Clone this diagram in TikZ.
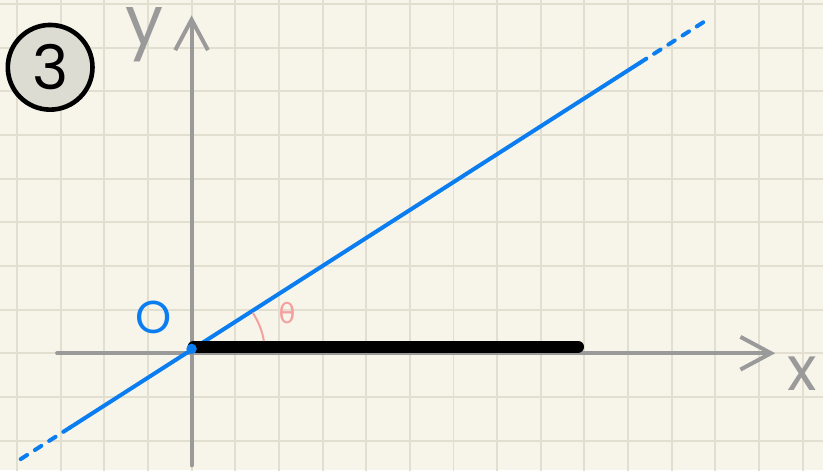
\documentclass[tikz,border=0pt]{standalone}
\usepackage{fontspec}
\setmainfont{Poppins}
\newfontfamily\greekfont{DejaVu Sans}
\usepackage{xcolor}
\usetikzlibrary{arrows.meta}

\definecolor{paper}{HTML}{F7F5EA}
\definecolor{gridcol}{HTML}{E2DFD0}
\definecolor{axiscol}{HTML}{9A9A9A}
\definecolor{blueink}{HTML}{0A7DF0}
\definecolor{pinkink}{HTML}{F5A0A0}
\definecolor{badgefill}{HTML}{DCDCD2}

\begin{document}
\begin{tikzpicture}[x=1cm,y=1cm,line cap=round,
    gridline/.style={draw=gridcol,line width=1.3pt},
    axisline/.style={draw=axiscol,line width=2.6pt,-{Straight Barb[length=0.7cm,width=0.75cm]}},
    blueline/.style={draw=blueink,line width=2.6pt},
    label/.style={inner sep=0pt}]
  \useasboundingbox (-4.389,-2.676) rectangle (14.465,8.092);
  \clip (-4.389,-2.676) rectangle (14.465,8.092);
  \fill[paper] (-4.389,-2.676) rectangle (14.465,8.092);
  \draw[gridline] (-5,-3) grid (15,9);
  % axes
  \draw[axisline] (0,-2.57) -- (0,7.74);
  \draw[axisline] (-3.08,0) -- (13.37,0);
  % line through the origin
  \draw[blueline] (-2.79,-1.706) -- (10.27,6.653);
  \draw[blueline,dash pattern=on 5pt off 6pt] (10.27,6.653) -- (11.88,7.683);
  \draw[blueline,dash pattern=on 5pt off 6pt] (-2.79,-1.706) -- (-3.93,-2.435);
  \draw[black,line width=8pt] (0.05,0.15) -- (8.85,0.15);
  \fill[blueink] (0,0.1) circle (0.12);
  \draw[pinkink,line width=1.3pt] (10:1.68) arc[start angle=10,end angle=33,radius=1.68];
  % labels
  \node[label,text=blueink,font=\fontsize{30}{32}\selectfont] (origin) at (-0.88,0.81) {O};
  \node[label,text=pinkink,font=\greekfont\fontsize{18}{20}\selectfont] (theta) at (2.19,0.92) {θ};
  \node[label,text=axiscol,font=\fontsize{44}{46}\selectfont] (ylabel) at (-1.07,7.3) {y};
  \node[label,text=axiscol,font=\fontsize{40}{42}\selectfont] (xlabel) at (13.98,-0.46) {x};
  \node[circle,draw=black,fill=badgefill,line width=3pt,minimum size=1.94cm,
    font=\fontsize{40}{42}\selectfont] (badge) at (-3.24,6.55) {3};
\end{tikzpicture}
\end{document}
